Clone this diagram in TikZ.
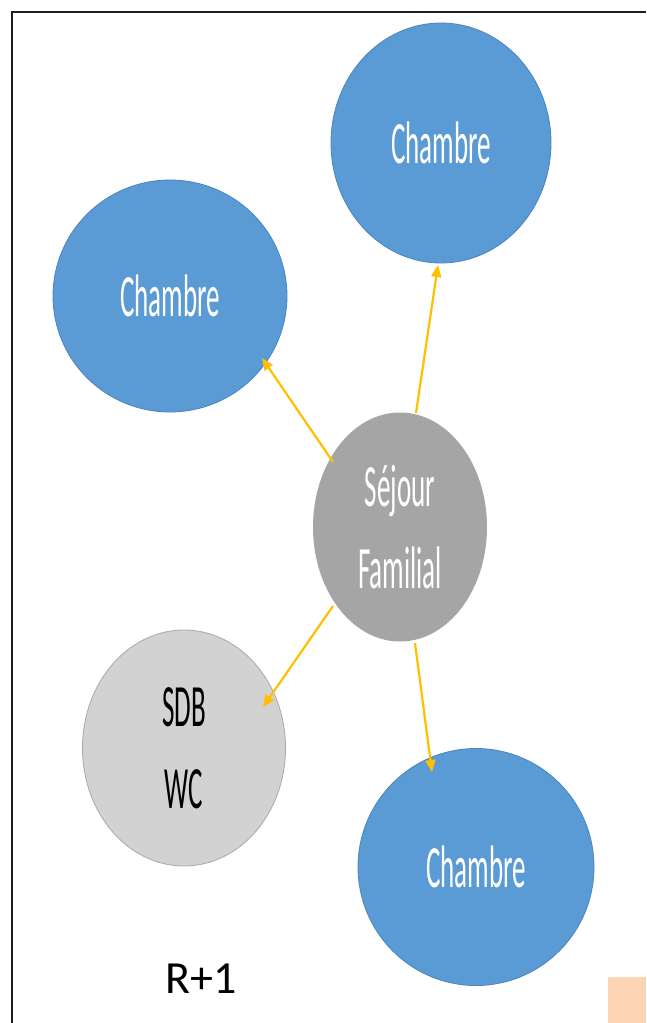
\documentclass[tikz,border=0pt]{standalone}
\usepackage{fontspec}
\setmainfont{Carlito}
\usepackage{graphicx}
\usetikzlibrary{shapes.geometric,arrows.meta,calc}
\definecolor{roomblue}{HTML}{5B9BD5}
\definecolor{roomblueedge}{HTML}{4A84BE}
\definecolor{livegray}{HTML}{A5A5A5}
\definecolor{wetgray}{HTML}{D2D2D2}
\definecolor{wetedge}{HTML}{A8A8A8}
\definecolor{linkyellow}{HTML}{FFC000}
\definecolor{peach}{HTML}{FCD5B5}
\definecolor{framecol}{HTML}{1E1E1E}
\newcommand{\nar}[1]{\scalebox{0.45}[1]{#1}}
\tikzset{
  room/.style={ellipse, inner sep=0pt, align=center,
    font=\fontsize{60}{82}\selectfont},
  bedroom/.style={room, fill=roomblue, draw=roomblueedge, line width=0.8pt, text=white},
  living/.style={room, fill=livegray, text=white},
  wet/.style={room, fill=wetgray, draw=wetedge, line width=0.8pt, text=black},
  conn/.style={draw=linkyellow, line width=2.2pt,
    -{Triangle[length=12pt,width=10pt]}},
  frameline/.style={draw=framecol, line width=2pt},
}
\begin{document}
\begin{tikzpicture}[x=1pt,y=-1pt]
\useasboundingbox (0,0) rectangle (646,1023);
\draw[frameline] (12,1023) -- (12,12) -- (646,12);
\fill[peach] (608,977) rectangle (646,1023);

\node[bedroom, minimum width=220pt, minimum height=240pt] (ch2) at (441,143) {\nar{Chambre}};
\node[bedroom, minimum width=234pt, minimum height=232pt] (ch1) at (170,296) {\nar{Chambre}};
\node[living, minimum width=174pt, minimum height=229pt] (sej) at (400,527) {\nar{Séjour}\\\nar{Familial}};
\node[wet, minimum width=203pt, minimum height=236pt] (sdb) at (184,748) {\nar{SDB}\\\nar{WC}};
\node[bedroom, minimum width=236pt, minimum height=237pt] (ch3) at (476,867) {\nar{Chambre}};

\draw[conn] ($(sej.center)+(-67,-65)$) -- ($(ch1.center)+(92,62)$);
\draw[conn] ($(sej.center)+(16,-114)$) -- ($(ch2.center)+(-3,122)$);
\draw[conn] ($(sej.center)+(-67,79)$) -- ($(sdb.center)+(79,-41)$);
\draw[conn] ($(sej.center)+(15,116)$) -- ($(ch3.center)+(-44,-95)$);

\node[anchor=base, font=\fontsize{46}{46}\selectfont, inner sep=0pt] (lvl) at (201.5,993) {R+1};
\end{tikzpicture}
\end{document}
